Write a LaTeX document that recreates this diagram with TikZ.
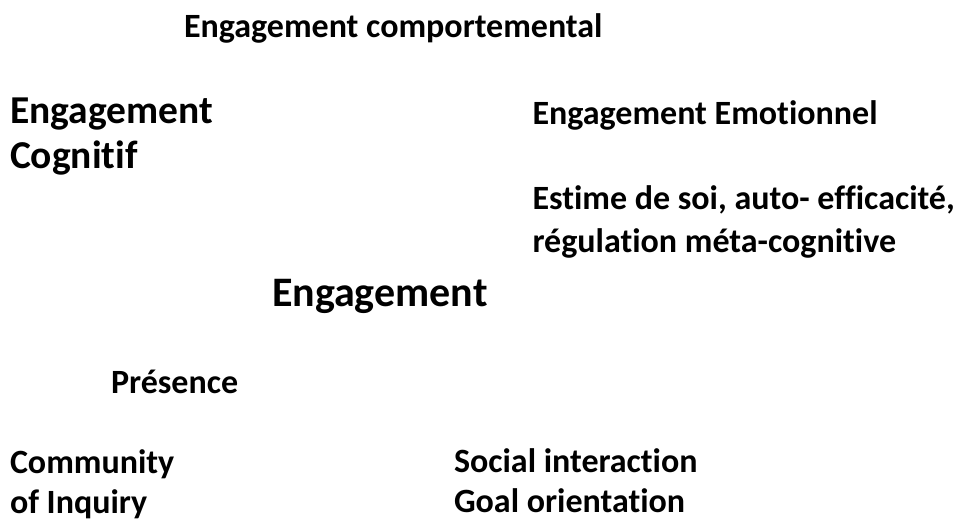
\documentclass[tikz,border=0pt]{standalone}
\usepackage{fontspec}
\setmainfont{Carlito}[Ligatures=NoCommon]
\begin{document}
\begin{tikzpicture}[x=1pt,y=-1pt,
  lbl/.style={anchor=base west, inner sep=0pt, outer sep=0pt, align=left,
    font=\fontsize{34}{39.5}\selectfont\bfseries},
  biglbl/.style={lbl, font=\fontsize{39.5}{45}\selectfont\bfseries},
  hugelbl/.style={lbl, font=\fontsize{42}{48}\selectfont\bfseries}]
\path[fill=white] (0,0) rectangle (956,520);
\useasboundingbox (0,0) rectangle (956,520);
\node[lbl] (comp) at (184,37) {Engagement comportemental};
\node[biglbl] (cog) at (10,168) {Engagement\\Cognitif};
\node[lbl] (emo) at (532.5,124) {Engagement Emotionnel};
\node[lbl, font=\fontsize{34}{43}\selectfont\bfseries] (estime) at (532.5,252) {Estime de soi, auto- efficacité,\\régulation méta-cognitive};
\node[hugelbl] (eng) at (272,306) {Engagement};
\node[lbl] (pres) at (111,393) {Présence};
\node[lbl] (coi) at (10,513) {Community\\of Inquiry};
\node[lbl] (soc) at (454,512) {Social interaction\\Goal orientation};
\end{tikzpicture}
\end{document}
